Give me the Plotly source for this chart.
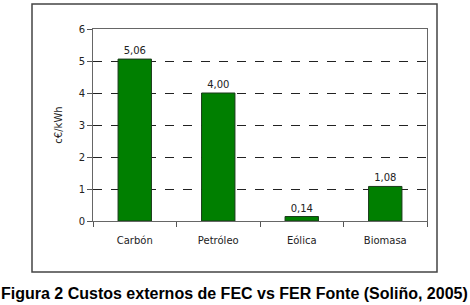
import plotly.graph_objects as go

categories = ["Carbón", "Petróleo", "Eólica", "Biomasa"]
values = [5.06, 4.00, 0.14, 1.08]
y_ticks = [0, 1, 2, 3, 4, 5, 6]
y_title = "c€/kWh"
caption = "Figura 2 Custos externos de FEC vs FER Fonte (Soliño, 2005)"

L, R, T, B = 93, 43, 29, 84
W, H = 470, 305
pw, ph = W - L - R, H - T - B

def px(x):
    return (x - L) / pw

def py(y):
    return (H - B - y) / ph

fig = go.Figure()
fig.add_trace(go.Bar(
    x=categories, y=values,
    marker=dict(color="#007f00", line=dict(color="#1a3a1a", width=1)),
    width=0.4,
    texttemplate="%{y:.2f}", textposition="outside",
    textfont=dict(family="DejaVu Sans", size=10, color="#222"),
    cliponaxis=False,
))

fig.update_layout(
    width=W, height=H,
    margin=dict(l=L, r=R, t=T, b=B, autoexpand=False),
    paper_bgcolor="white", plot_bgcolor="white",
    separators=",.",
    showlegend=False,
    font=dict(family="DejaVu Sans", size=9, color="#222"),
    xaxis=dict(
        automargin=False,
        showline=True, linecolor="#666", linewidth=1, mirror=True,
        ticks="outside", tickson="boundaries", ticklen=5, tickcolor="#555",
        ticklabelstandoff=10,
        showgrid=False,
        tickfont=dict(family="DejaVu Sans", size=10, color="#222"),
    ),
    yaxis=dict(
        automargin=False,
        range=[0, 6], tickvals=y_ticks,
        showline=True, linecolor="#666", linewidth=1, mirror=True,
        ticks="outside", ticklen=5, tickcolor="#555",
        showgrid=True, gridcolor="#222", griddash="dash", gridwidth=1,
        zeroline=False,
        tickfont=dict(family="DejaVu Sans", size=10, color="#222"),
        title=dict(text=y_title, font=dict(family="DejaVu Sans", size=10, color="#222"), standoff=14),
    ),
    shapes=[dict(
        type="rect", xref="paper", yref="paper",
        x0=px(32), x1=px(437), y0=py(272), y1=py(4),
        line=dict(color="#444", width=1.5), fillcolor="rgba(0,0,0,0)", layer="below",
    )],
    annotations=[dict(
        text="<b>" + caption + "</b>", xref="paper", yref="paper",
        x=px(234), y=py(293), xanchor="center", yanchor="middle",
        showarrow=False,
        font=dict(family="Liberation Sans", size=16, color="black"),
    )],
)

fig.write_html(
    "out.html",
    config={"displayModeBar": False},
    post_script="document.body.style.margin='0';document.body.style.overflow='hidden';",
)
